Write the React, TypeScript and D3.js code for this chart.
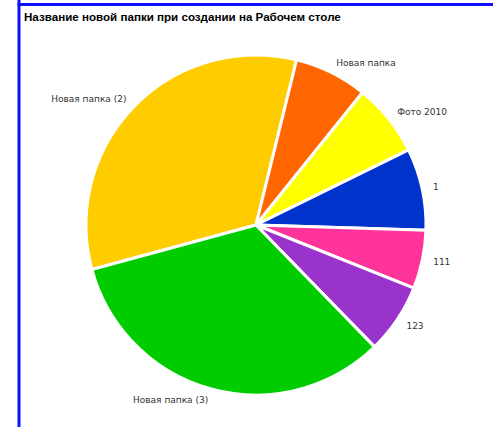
import React from "react";
import * as d3 from "d3";

const labels = ["Новая папка (2)", "Новая папка", "Фото 2010", "1", "111", "123", "Новая папка (3)"];
const values = [119, 25, 25, 28, 20, 24, 119];
const colors = ["#FFCC00", "#FF6600", "#FFFF00", "#0033CC", "#FF3399", "#9933CC", "#00CC00"];
const title = "Название новой папки при создании на Рабочем столе";

export default function App() {
  const W = 493, H = 427;
  const cx = 256, cy = 225, r = 170;
  const startDeg = 254.8;
  const pie = d3.pie<number>().sort(null)
    .startAngle((startDeg * Math.PI) / 180)
    .endAngle(((startDeg + 360) * Math.PI) / 180);
  const arcs = pie(values);
  const arc = d3.arc<d3.PieArcDatum<number>>().innerRadius(0).outerRadius(r);
  const labelArc = d3.arc<d3.PieArcDatum<number>>().innerRadius(181).outerRadius(181);
  return (
    <div style={{ position: "absolute", left: 0, top: 0 }}>
      <svg width={W} height={H} style={{ display: "block", background: "#fff" }}>
        <line x1={19} y1={0} x2={19} y2={H} stroke="#1010ff" strokeWidth={3} />
        <line x1={17.5} y1={4.5} x2={W} y2={4.5} stroke="#1010ff" strokeWidth={3} />
        <text x={24} y={21} fontFamily="Liberation Sans, Arial, sans-serif" fontWeight="bold" fontSize={11.6} fill="#000">
          {title}
        </text>
        <g transform={`translate(${cx},${cy})`}>
          {arcs.map((a, i) => (
            <path key={i} d={arc(a) || ""} fill={colors[i]} stroke="#fff" strokeWidth={3} strokeLinejoin="round" />
          ))}
          {arcs.map((a, i) => {
            const [x, y] = labelArc.centroid(a);
            const mid = (a.startAngle + a.endAngle) / 2;
            const right = Math.sin(mid) > 0;
            return (
              <text key={i} x={x} y={y} dy="0.35em" textAnchor={right ? "start" : "end"}
                fontFamily="DejaVu Sans, Verdana, sans-serif" fontSize={9} fill="#333">
                {labels[i]}
              </text>
            );
          })}
        </g>
      </svg>
    </div>
  );
}
